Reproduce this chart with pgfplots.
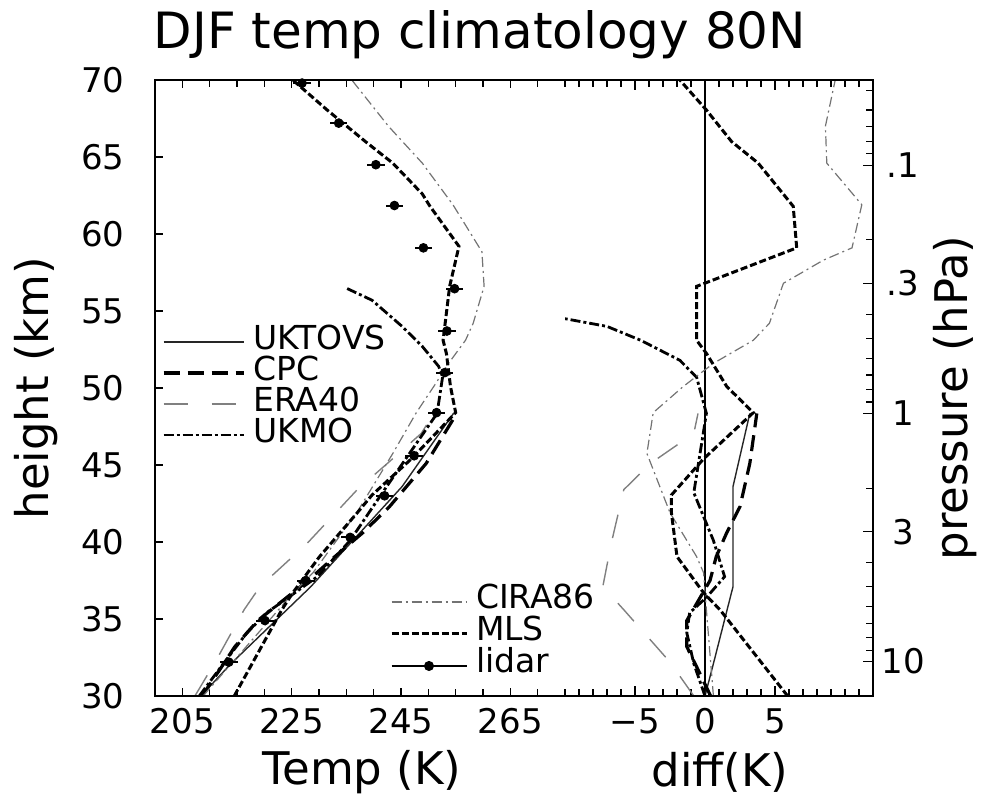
\documentclass[border=0pt]{standalone}
\usepackage{fontspec}
\setmainfont{DejaVu Sans}
\usepackage{pgfplots}
\pgfplotsset{compat=1.18}

\tikzset{
  sUKTOVS/.style={black!85, line width=0.7pt},
  sCPC/.style={black, line width=1.6pt, dash pattern=on 8pt off 4pt},
  sERA/.style={black!50, line width=0.7pt, dash pattern=on 12pt off 12pt},
  sUKMO/.style={black, line width=1.4pt, dash pattern=on 5pt off 1.5pt on 1.5pt off 1.5pt},
  sCIRA/.style={black!55, line width=0.6pt, dash pattern=on 5pt off 2pt on 1pt off 2pt},
  sMLS/.style={black, line width=1.5pt, dash pattern=on 3.5pt off 1.5pt},
}

\pgfplotsset{
  common/.style={
    scale only axis, height=308pt, anchor=south west,
    ymin=30, ymax=70,
    axis line style={draw=none},
    tick align=inside,
    major tick length=3.5pt, minor tick length=3.5pt,
    tick style={black, line width=0.6pt},
    /pgf/number format/assume math mode=true,
    ticklabel style={font=\fontsize{17}{20}\selectfont},
    xticklabel style={anchor=north, inner sep=0pt, yshift=-6pt},
    clip mode=individual,
  },
}

\begin{document}
\begin{tikzpicture}
\useasboundingbox (0,0) rectangle (491.5pt,401.5pt);

% ---------------- left panel: temperature ----------------
\begin{axis}[common,
  at={(77.5pt,53.5pt)}, width=205pt,
  xmin=200, xmax=275,
  xtick={205,225,245,265}, xticklabels={205,225,245,265},
  minor xtick={200,210,215,220,230,235,240,250,255,260,270},
  ytick={30,35,40,45,50,55,60,65,70},
  yticklabels={30,35,40,45,50,55,60,65,70},
  ytick pos=left,
  major tick length=4pt,
  yticklabel style={anchor=east, inner sep=0pt, xshift=-15pt},
  legend cell align=left,
  legend style={at={(axis cs:201.3,53.96)}, anchor=north west, draw=none, fill=none,
    inner sep=0pt, outer sep=0pt, font=\fontsize{16.5}{18}\selectfont, row sep=0.5pt,
    nodes={inner sep=0pt, text height=11pt, text depth=4pt},
    /tikz/every odd column/.append style={column sep=4pt}},
  legend image code/.code={\draw[mark repeat=2,mark phase=2,#1] plot coordinates {(0pt,0pt) (20pt,0pt) (40pt,0pt)};},
]
\addplot[sUKTOVS] coordinates {(208.4,30) (213.9,32.1) (228.5,37.1) (245.2,43.6) (254.6,48.35)};
\addlegendentry{UKTOVS}
\addplot[sCPC] coordinates {(208.6,30) (212.2,31.9) (214.6,33.2) (218.8,34.9) (228.0,37.5) (232.9,39.05) (238.0,40.6) (242.9,42.3) (249.6,45.1) (255.2,48.35)};
\addlegendentry{CPC}
\addplot[sERA] coordinates {(207.3,30) (211.0,32.2) (216.3,35.6) (219.2,37.1) (227.8,39.9) (237.0,43.4) (242.5,45.1) (248.7,47.05) (251.0,48.35)};
\addlegendentry{ERA40}
\addplot[sUKMO] coordinates {(208.1,30) (212.5,32.1) (216.8,34.1) (220.4,35.4) (224.4,36.4) (229.7,37.75) (235.7,40.1) (241.6,43.2) (251.6,48.35) (252.6,50.7) (251.9,51.4) (248.9,52.7) (245.2,54.0) (239.7,55.7) (234.9,56.5)};
\addlegendentry{UKMO}
\addplot[sCIRA, forget plot] coordinates {(208.8,30) (225.3,36.7) (228.9,38.0) (236.9,41.9) (243.5,45.75) (247.8,48.4) (251.0,50.1) (253.7,51.6) (256.8,53.1) (258.2,54.2) (260.2,56.6) (259.8,58.85) (254.5,61.9) (248.9,64.6) (242.7,67.0) (236.0,70)};
\addplot[sMLS, forget plot] coordinates {(214.5,30) (223.2,35.6) (225.2,36.7) (230.1,39.05) (237.0,41.9) (239.7,43.05) (246.9,45.4) (255.0,48.4) (254.05,50.1) (253.3,52.25) (252.7,53.1) (253.9,56.6) (255.6,59.2) (250.3,61.8) (248.9,62.6) (243.5,64.6) (238.5,66.0) (231.5,68.05) (225.2,70)};
\addplot[black, only marks, mark=*, mark size=2.2pt, forget plot,
  error bars/.cd, x dir=both, x fixed=1.6, error mark=none, error bar style={line width=1pt}]
  coordinates {(226.9,69.8) (233.6,67.2) (240.4,64.5) (243.8,61.85) (249.1,59.1) (254.8,56.45) (253.4,53.7) (253.0,51.0) (251.5,48.4) (247.4,45.6) (242.0,43.0) (235.7,40.3) (227.6,37.5) (220.1,34.9) (213.5,32.2)};
\end{axis}

% ---------------- right panel: differences ----------------
\begin{axis}[common,
  at={(282.5pt,53.5pt)}, width=154pt,
  xmin=-10, xmax=12,
  xtick={-5,0,5}, xticklabels={−5,0,5},
  minor xtick={-10,-9,-8,-7,-6,-4,-3,-2,-1,1,2,3,4,6,7,8,9,10,11,12},
  ytick={32.24,40.66,48.35,56.78,64.47},
  yticklabels={10,3,1,.3,.1},
  minor ytick={32.97,33.80,34.73,35.81,37.09,38.65,43.50,49.09,49.92,50.85,51.93,53.21,54.77,59.62,65.21,66.03,66.97,68.05,69.32},
  ytick pos=right, yticklabel pos=right,
  major tick length=5pt,
  yticklabel style={anchor=center, inner sep=0pt, xshift=15pt},
  legend cell align=left,
  legend style={at={(axis cs:-22.5,37.08)}, anchor=north west, draw=none, fill=none,
    inner sep=0pt, outer sep=0pt, font=\fontsize{16.5}{18}\selectfont, row sep=1pt,
    nodes={inner sep=0pt, text height=11pt, text depth=4pt},
    /tikz/every odd column/.append style={column sep=4pt}},
  legend image code/.code={\draw[mark repeat=2,mark phase=2,#1] plot coordinates {(0pt,0pt) (18.75pt,0pt) (37.5pt,0pt)};},
]
\addlegendimage{sCIRA}
\addlegendentry{CIRA86}
\addlegendimage{sMLS}
\addlegendentry{MLS}
\addlegendimage{black, line width=0.6pt, mark=*, mark size=2.2pt}
\addlegendentry{lidar}
\addplot[black, line width=0.6pt, forget plot] coordinates {(0,30) (0,70)};
\addplot[sUKTOVS, forget plot] coordinates {(0,30) (0.6,32.1) (2.0,37.1) (2.0,43.6) (3.2,48.35)};
\addplot[sCPC, forget plot] coordinates {(0.4,30) (-0.6,31.9) (-1.3,33.2) (-1.3,34.9) (0.36,37.5) (0.8,39.05) (1.55,40.6) (2.5,42.3) (3.2,45.1) (3.7,48.35)};
\addplot[sERA, forget plot] coordinates {(-0.8,30) (-2.5,32.2) (-5.8,35.6) (-7.3,37.1) (-6.7,39.9) (-5.8,43.4) (-3.9,45.1) (-0.8,47.05) (-0.5,48.35)};
\addplot[sUKMO, forget plot] coordinates {(0,30) (-0.8,32.1) (-1.3,34.1) (-1.1,35.4) (0.1,36.4) (1.4,37.75) (0.6,40.1) (-0.8,43.2) (0.1,48.35) (-0.6,50.7) (-1.8,51.8) (-4.6,53.1) (-7.0,54.0) (-10,54.5)};
\addplot[sCIRA, forget plot] coordinates {(0.6,30) (0,36.7) (-0.1,38) (-0.6,39.05) (-2.5,41.9) (-4.15,45.75) (-3.7,48.4) (-1.55,50.1) (0.6,51.6) (3.45,53.1) (4.6,54.2) (5.6,56.8) (8.45,58.3) (10.5,59.1) (11.2,61.9) (8.7,64.6) (8.6,67) (9.3,70)};
\addplot[sMLS, forget plot] coordinates {(5.9,30) (1.07,35.6) (-0.1,36.7) (-2.0,39.05) (-2.4,41.9) (-2.4,43.05) (-0.1,45.4) (3.45,48.4) (1.55,50.1) (0.1,52.25) (-0.6,53.1) (-0.6,56.6) (6.55,59.1) (6.3,61.8) (3.8,64.6) (1.9,66.0) (0.1,68.05) (-1.8,70)};
\end{axis}

% frame round both panels
\draw[black, line width=0.8pt] (77.5pt,53.5pt) rectangle (436.5pt,361.5pt);

% titles and axis labels
\node[font=\fontsize{25}{30}\selectfont] at (240pt,384pt) {DJF temp climatology 80N};
\node[rotate=90, font=\fontsize{22.5}{27}\selectfont] at (18pt,207.5pt) {height (km)};
\node[rotate=90, font=\fontsize{22.5}{27}\selectfont] at (477.5pt,202.5pt) {pressure (hPa)};
\node[font=\fontsize{22.5}{27}\selectfont] at (181pt,15.5pt) {Temp (K)};
\node[font=\fontsize{22.5}{27}\selectfont] at (360pt,15.5pt) {diff(K)};
\end{tikzpicture}
\end{document}
